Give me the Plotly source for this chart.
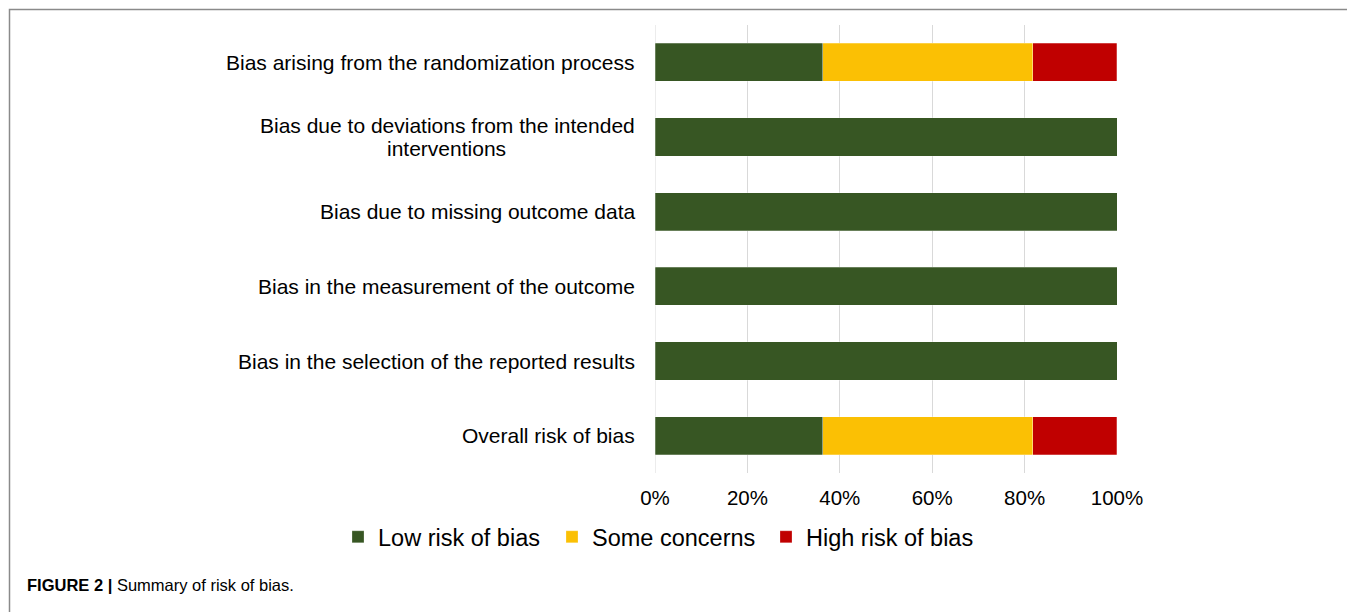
import plotly.graph_objects as go

categories = [
    "Bias arising from the randomization process",
    "Bias due to deviations from the intended<br>interventions",
    "Bias due to missing outcome data",
    "Bias in the measurement of the outcome",
    "Bias in the selection of the reported results",
    "Overall risk of bias",
]
low = [36.36, 100, 100, 100, 100, 36.36]
some = [45.45, 0, 0, 0, 0, 45.45]
high = [18.18, 0, 0, 0, 0, 18.18]
series_names = ["Low risk of bias", "Some concerns", "High risk of bias"]
colors = ["#375623", "#FBC004", "#C00000"]
xticks = [0, 20, 40, 60, 80, 100]
xticklabels = ["0%", "20%", "40%", "60%", "80%", "100%"]

# page offset of the plot div (body margin)
OFF = 8
W, H = 1355 - OFF, 612 - OFF
# plot area in page pixel coordinates
PX0, PX1, PY0, PY1 = 655, 1117, 25, 473
L, R, T, B = PX0 - OFF, (W + OFF) - PX1, PY0 - OFF, (H + OFF) - PY1
pw, ph = PX1 - PX0, PY1 - PY0


def px(xp):
    return (xp - PX0) / pw


def py(yp):
    return (PY1 - yp) / ph


fig = go.Figure()
for name, vals, c in zip(series_names, [low, some, high], colors):
    fig.add_trace(go.Bar(
        y=categories, x=vals, name=name, orientation="h",
        marker=dict(color=c, line=dict(color="rgba(255,255,255,0.5)", width=0.5)),
    ))

font = "Liberation Sans, Arial, sans-serif"
for cat in categories:
    lines = cat.split("<br>")
    n = len(lines)
    for i, ln in enumerate(lines):
        shift = (n - 1) / 2 * 22.5 - i * 22.5
        fig.add_annotation(
            x=0, xref="paper", y=cat, yref="y", xanchor="right", xshift=-18,
            yshift=shift, text=ln, showarrow=False, align="center",
            font=dict(family=font, size=21, color="#000"),
        )
# center multi-line label lines on one another
fig.layout.annotations[2].update(xanchor="center", xshift=-18 - 191)

fig.add_shape(type="rect", xref="paper", yref="paper",
              x0=px(9.5), x1=px(1353.5), y0=py(650), y1=py(9.5),
              line=dict(color="#8a8a8a", width=1.5), fillcolor="rgba(0,0,0,0)", layer="below")

fig.add_annotation(
    x=px(25), xref="paper", y=py(585), yref="paper", xanchor="left", yanchor="middle",
    showarrow=False,
    text="<b>FIGURE 2 |</b> Summary of risk of bias.",
    font=dict(family="Liberation Sans Narrow, Arial Narrow, Liberation Sans, sans-serif", size=16.5, color="#000"),
)

fig.update_layout(
    width=W, height=H, barmode="stack", bargap=0.49,
    margin=dict(l=L, r=R, t=T, b=B, autoexpand=False),
    paper_bgcolor="white", plot_bgcolor="white",
    font=dict(family=font, size=20, color="#000"),
    showlegend=True,
    legend=dict(orientation="h", x=px(338), xanchor="left",
                y=py(537), yanchor="middle",
                bgcolor="rgba(0,0,0,0)",
                font=dict(family=font, size=23.5, color="#000"), traceorder="normal",
                itemwidth=30, entrywidth=169, entrywidthmode="pixels"),
    xaxis=dict(range=[0, 100], tickvals=xticks, ticktext=xticklabels,
               showgrid=True, gridcolor="#d9d9d9", gridwidth=1,
               zeroline=False, showline=False, ticks="", ticklabelstandoff=10,
               tickfont=dict(family=font, size=20.5)),
    yaxis=dict(autorange="reversed", showticklabels=False, showgrid=False,
               zeroline=False, showline=False, ticks=""),
)
fig.add_shape(type="line", xref="x", yref="paper", x0=0, x1=0, y0=0, y1=1,
              line=dict(color="#d9d9d9", width=1), layer="below")

fig.write_html("out.html")
